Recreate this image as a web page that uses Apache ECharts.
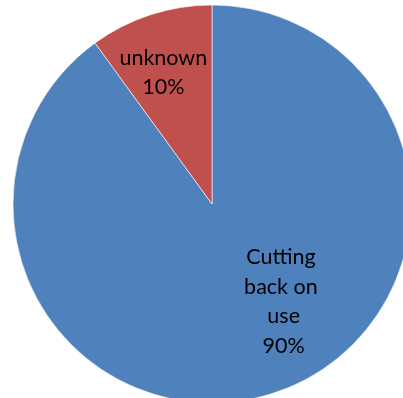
<!DOCTYPE html>
<html>
<head>
<meta charset="utf-8">
<script src="https://cdn.jsdelivr.net/npm/echarts@6/dist/echarts.min.js"></script>
<style>html,body{margin:0;padding:0;background:#fff}#c{width:403px;height:398px}</style>
</head>
<body>
<div id="c"></div>
<script>
const categories = ['Cutting back on use', 'unknown'];
const values = [90, 10];
const colors = ['#4F81BD', '#C0504D'];
const labelOffsets = [[40, 0], [-17, -34]];
const labelWidths = [84, 120];

const chart = echarts.init(document.getElementById('c'), null, {renderer: 'canvas'});
chart.setOption({
  animation: false,
  series: [{
    type: 'pie',
    center: [212, 204],
    radius: [0, 199],
    startAngle: 90,
    clockwise: true,
    avoidLabelOverlap: false,
    itemStyle: {borderColor: '#ffffff', borderWidth: 0.6},
    label: {
      show: true,
      position: 'inside',
      formatter: '{b}\n{d}%',
      fontFamily: 'Lato',
      fontSize: 21.5,
      lineHeight: 29.5,
      color: '#000000',
      align: 'center',
      overflow: 'break'
    },
    labelLine: {show: false},
    emphasis: {disabled: true},
    data: categories.map((c, i) => ({
      name: c,
      value: values[i],
      itemStyle: {color: colors[i]},
      label: {offset: labelOffsets[i], width: labelWidths[i]}
    }))
  }]
});
</script>
</body>
</html>
